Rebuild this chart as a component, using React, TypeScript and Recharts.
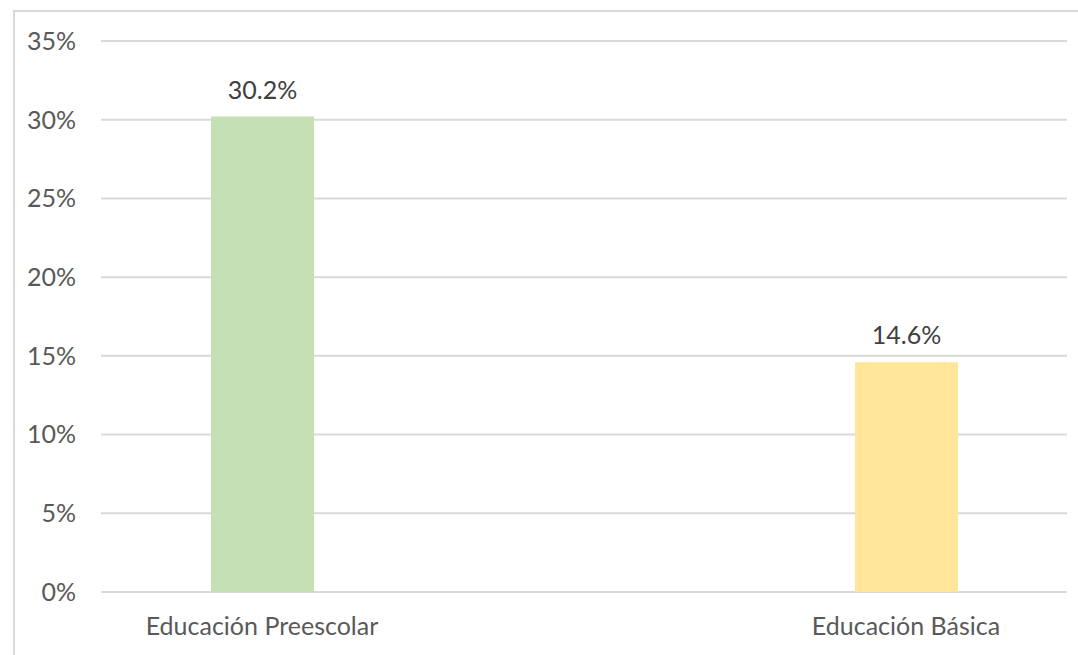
import { BarChart, Bar, XAxis, YAxis, CartesianGrid, Cell, LabelList } from 'recharts';

// three category slots, the middle one is left empty in the original
const categories = ['Educación Preescolar', '', 'Educación Básica'];
const values: (number | null)[] = [30.2, null, 14.6];
const barColors = ['#C5E0B4', '#FFFFFF', '#FFE699'];
const yTicks = [0, 5, 10, 15, 20, 25, 30, 35];

const data = categories.map((name, i) => ({ name, value: values[i] }));

const FONT = 'Lato, "Open Sans", sans-serif';

export default function App() {
  return (
    <div style={{ position: 'absolute', left: 0, top: 0, width: 1078, height: 655, overflow: 'hidden', background: '#fff' }}>
      <div
        style={{
          position: 'absolute',
          left: 13,
          top: 10,
          width: 1100,
          height: 700,
          borderTop: '2px solid #D9D9D9',
          borderLeft: '2px solid #D9D9D9',
        }}
      />
      <div style={{ position: 'absolute', left: 0, top: 0 }}>
        <BarChart
          width={1078}
          height={655}
          data={data}
          margin={{ top: 41, right: 11, left: 0, bottom: 33 }}
        >
          <CartesianGrid vertical={false} stroke="#D9D9D9" strokeWidth={2} />
          <XAxis
            dataKey="name"
            height={30}
            axisLine={false}
            tickLine={false}
            tickSize={0}
            tickMargin={25}
            interval={0}
            tick={{ fill: '#595959', fontSize: 25, fontFamily: FONT }}
          />
          <YAxis
            width={101}
            domain={[0, 35]}
            ticks={yTicks}
            axisLine={false}
            tickLine={false}
            tickSize={0}
            tickMargin={25}
            tickFormatter={(v: number) => `${v}%`}
            tick={{ fill: '#595959', fontSize: 25, fontFamily: FONT }}
          />
          <Bar dataKey="value" barSize={103} isAnimationActive={false}>
            {data.map((entry, index) => (
              <Cell key={`cell-${index}`} fill={barColors[index]} />
            ))}
            <LabelList
              dataKey="value"
              position="top"
              offset={18}
              formatter={(v: any) => (v == null ? '' : `${Number(v).toFixed(1)}%`)}
              style={{ fill: '#404040', fontSize: 25, fontFamily: FONT }}
            />
          </Bar>
        </BarChart>
      </div>
    </div>
  );
}
